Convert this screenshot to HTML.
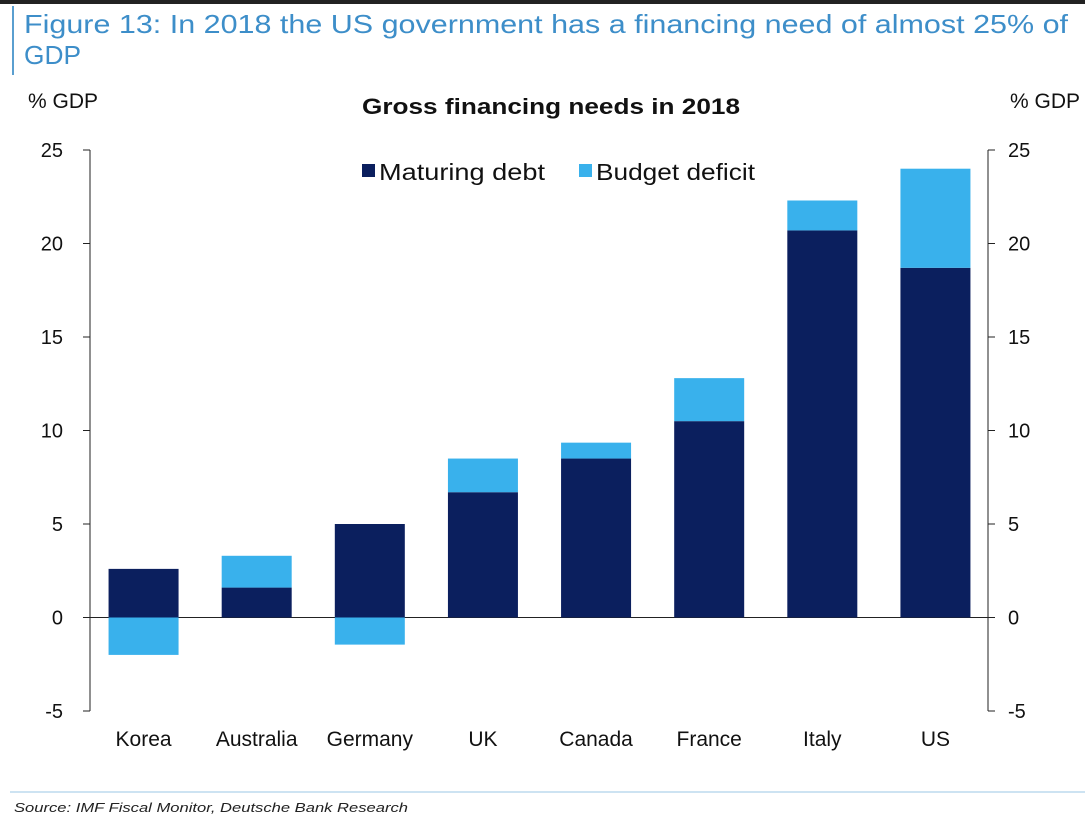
<!DOCTYPE html>
<html><head><meta charset="utf-8">
<style>
body{margin:0;background:#fff;width:1085px;height:833px;overflow:hidden;font-family:"Liberation Sans",sans-serif;}
</style></head>
<body>
<svg width="1085" height="833" style="position:absolute;left:0;top:0">
<rect x="0" y="0" width="1085" height="4" fill="#222"/>
<line x1="13" y1="6" x2="13" y2="75" stroke="#5a9fd0" stroke-width="2"/>
<text x="24" y="33" font-size="26" fill="#3d8ec9" textLength="1044" lengthAdjust="spacingAndGlyphs">Figure 13: In 2018 the US government has a financing need of almost 25% of</text>
<text x="24" y="64" font-size="26" fill="#3d8ec9" textLength="57" lengthAdjust="spacingAndGlyphs">GDP</text>
<text x="28" y="108" font-size="21" fill="#111">% GDP</text>
<text x="1080" y="108" font-size="21" fill="#111" text-anchor="end">% GDP</text>
<text x="362" y="114" font-size="22" font-weight="bold" fill="#111" textLength="378" lengthAdjust="spacingAndGlyphs">Gross financing needs in 2018</text>
<rect x="362" y="164" width="13" height="13" fill="#0b1f5e"/>
<text x="379" y="180" font-size="23" fill="#111" textLength="166" lengthAdjust="spacingAndGlyphs">Maturing debt</text>
<rect x="579" y="164" width="13" height="13" fill="#39b1ec"/>
<text x="596" y="180" font-size="23" fill="#111" textLength="159" lengthAdjust="spacingAndGlyphs">Budget deficit</text>
<g id="plot"></g>
<line x1="10" y1="792" x2="1085" y2="792" stroke="#9bc7e6" stroke-width="1"/>
<text x="14" y="812" font-size="13" font-style="italic" fill="#222" textLength="394" lengthAdjust="spacingAndGlyphs">Source: IMF Fiscal Monitor, Deutsche Bank Research</text>
</svg>
<script>
const categories=["Korea","Australia","Germany","UK","Canada","France","Italy","US"];
const maturingDebt=[2.6,1.6,5.0,6.7,8.5,10.5,20.7,18.7];
const budgetDeficit=[-2.0,1.7,-1.45,1.8,0.85,2.3,1.6,5.3];
const yTicks=[-5,0,5,10,15,20,25];
const NS="http://www.w3.org/2000/svg";
const g=document.getElementById('plot');
const x0=87,x1=992,yTop=150,yBot=711;
const y=v=>yBot-(v+5)/30*(yBot-yTop);
const band=(x1-x0)/categories.length;
const cx=i=>x0+band*(i+0.5);
const bw=70;
function el(t,a){const e=document.createElementNS(NS,t);for(const k in a)e.setAttribute(k,a[k]);g.appendChild(e);return e;}
const la=el('line',{x1:90,y1:y(25),x2:90,y2:y(-5),stroke:'#222','stroke-width':1});


const ra=el('line',{x1:988,y1:y(25),x2:988,y2:y(-5),stroke:'#222','stroke-width':1});


const za=el('line',{x1:90,y1:y(0),x2:988,y2:y(0),stroke:'#222','stroke-width':1});


yTicks.forEach(v=>{
  const t1=el('line',{x1:83,y1:y(v),x2:90,y2:y(v),stroke:'#222'});
  
  
  const t2=el('line',{x1:988,y1:y(v),x2:995,y2:y(v),stroke:'#222'});
  
  
  const l1=el('text',{x:63,y:y(v)+7,'font-size':20,'text-anchor':'end',fill:'#111'});l1.textContent=v;
  
  
  const l2=el('text',{x:1008,y:y(v)+7,'font-size':20,fill:'#111'});l2.textContent=v;
  
  
});
categories.forEach((c,i)=>{
  const m=maturingDebt[i],d=budgetDeficit[i];
  const b1=el('rect',{x:cx(i)-bw/2,y:y(m),width:bw,height:y(0)-y(m),fill:'#0b1f5e'});
  
  
  let top,bot;
  if(d>=0){top=y(m+d);bot=y(m);}else{top=y(0);bot=y(d);}
  const b2=el('rect',{x:cx(i)-bw/2,y:top,width:bw,height:bot-top,fill:'#39b1ec'});
  
  
  const t=el('text',{x:cx(i),y:746,'font-size':21,'text-anchor':'middle',fill:'#111'});t.textContent=c;
  
  
});
</script>
</body></html>
